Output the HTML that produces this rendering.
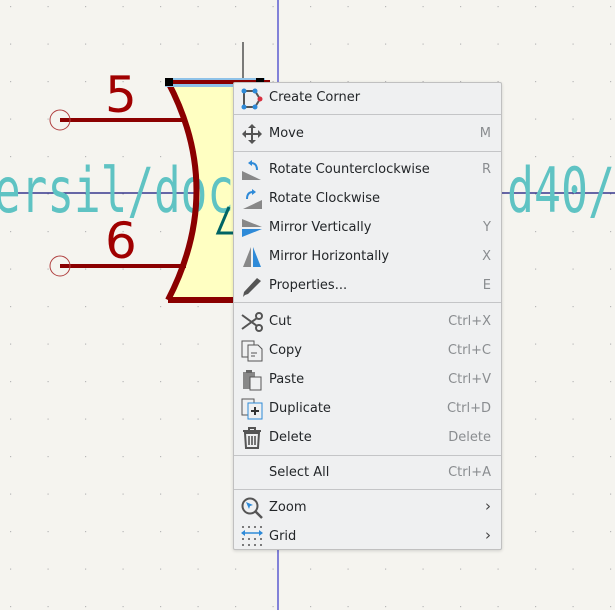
<!DOCTYPE html>
<html><head><style>
body{margin:0;width:615px;height:610px;overflow:hidden;background:#f5f4ef;position:relative;font-family:"DejaVu Sans","Liberation Sans",sans-serif}
.m{position:absolute;left:233px;top:82px;width:267px;height:466px;background:#eff0f1;border:1px solid #c0c0c0;border-radius:2px;box-shadow:0 1px 3px rgba(0,0,0,.15)}
.i{position:absolute;left:35px;font-size:13px;color:#232629;line-height:16px}
.k{position:absolute;right:10px;font-size:13px;color:#8a8d90;line-height:16px}
.s{position:absolute;left:0;right:0;height:1px;background:#c4c5c7}
.ic{position:absolute;left:7px}
</style></head><body>
<svg width="615" height="610" style="position:absolute;left:0;top:0">
<defs><pattern id="g" x="10" y="6" width="37.5" height="37.5" patternUnits="userSpaceOnUse"><rect x="0" y="0" width="1.2" height="1.2" fill="#b8b8b8"/></pattern></defs>
<rect width="615" height="610" fill="url(#g)"/>
<line x1="278" y1="0" x2="278" y2="610" stroke="#1010c0" stroke-width="1"/>
<line x1="0" y1="193" x2="615" y2="193" stroke="#10107a" stroke-width="1.3"/>
<line x1="243" y1="42" x2="243" y2="84" stroke="#000" stroke-width="1"/>
<path d="M168,82 L270,82 L270,300 L168,300 Q225,190 168,82Z" fill="#ffffc2"/>
<text x="-6" y="212" font-family="DejaVu Sans Mono,Liberation Mono,monospace" font-size="62" fill="#5fc3c3" textLength="240" lengthAdjust="spacingAndGlyphs">ersil/doc</text>
<text x="507" y="212" font-family="DejaVu Sans Mono,Liberation Mono,monospace" font-size="62" fill="#5fc3c3" textLength="108" lengthAdjust="spacingAndGlyphs">d40/</text>
<path d="M168,82 Q225,190 168,300" fill="none" stroke="#8b0000" stroke-width="6"/>
<line x1="168" y1="300" x2="270" y2="300" stroke="#8b0000" stroke-width="6"/>
<rect x="165" y="78" width="100" height="9" fill="#8fc2e8"/>
<line x1="168" y1="82" x2="270" y2="82" stroke="#8b0000" stroke-width="4"/>
<rect x="165" y="78" width="8" height="8" fill="#000"/><rect x="256" y="78" width="8" height="8" fill="#000"/>
<line x1="60" y1="120" x2="186" y2="120" stroke="#8b0000" stroke-width="4"/>
<line x1="60" y1="266" x2="186" y2="266" stroke="#8b0000" stroke-width="4"/>
<circle cx="60" cy="120" r="10" fill="none" stroke="#b04040" stroke-width="1"/>
<circle cx="60" cy="266" r="10" fill="none" stroke="#b04040" stroke-width="1"/>
<text x="105" y="112" font-family="DejaVu Sans" font-size="50" fill="#a00000">5</text>
<text x="105" y="258" font-family="DejaVu Sans" font-size="50" fill="#a00000">6</text>
<path d="M229,207 L218,233 L236,233" fill="none" stroke="#006464" stroke-width="3"/>
</svg>
<div class="m">
<svg class="ic" style="top:5px" width="22" height="22"><path d="M3,3 H14 L19,11 L14,19 H3Z" fill="none" stroke="#555" stroke-width="2"/><circle cx="3" cy="3" r="2.5" fill="#2e8ad8"/><circle cx="14" cy="3" r="2.5" fill="#2e8ad8"/><circle cx="3" cy="19" r="2.5" fill="#2e8ad8"/><circle cx="14" cy="19" r="2.5" fill="#2e8ad8"/><circle cx="19" cy="11" r="2.5" fill="#d83040"/></svg>
<div class="i" style="top:7px">Create Corner</div>
<div class="s" style="top:31px"></div>
<svg class="ic" style="top:40px" width="22" height="22"><path d="M11,1 L15,5 H7Z M11,21 L15,17 H7Z M1,11 L5,7 V15Z M21,11 L17,7 V15Z" fill="#555"/><path d="M11,4 V18 M4,11 H18" stroke="#555" stroke-width="2"/></svg>
<div class="i" style="top:43px">Move</div><div class="k" style="top:43px">M</div>
<div class="s" style="top:68px"></div>
<svg class="ic" style="top:76px" width="22" height="22"><path d="M1,21 L20,21 L1,12Z" fill="#888"/><path d="M10,4 Q16,4 16,11" fill="none" stroke="#2e8ad8" stroke-width="2"/><path d="M7,4 L11,1 L11,7Z" fill="#2e8ad8"/></svg>
<div class="i" style="top:79px">Rotate Counterclockwise</div><div class="k" style="top:79px">R</div>
<svg class="ic" style="top:105px" width="22" height="22"><path d="M21,21 L2,21 L21,12Z" fill="#888"/><path d="M6,11 Q6,4 12,4" fill="none" stroke="#2e8ad8" stroke-width="2"/><path d="M15,4 L11,1 L11,7Z" fill="#2e8ad8"/></svg>
<div class="i" style="top:108px">Rotate Clockwise</div>
<svg class="ic" style="top:134px" width="22" height="22"><path d="M1,2 L21,10 H1Z" fill="#888"/><path d="M1,20 L21,12 H1Z" fill="#2e8ad8"/></svg>
<div class="i" style="top:137px">Mirror Vertically</div><div class="k" style="top:137px">Y</div>
<svg class="ic" style="top:163px" width="22" height="22"><path d="M10,1 L2,21 H10Z" fill="#888"/><path d="M12,1 L20,21 H12Z" fill="#2e8ad8"/></svg>
<div class="i" style="top:166px">Mirror Horizontally</div><div class="k" style="top:166px">X</div>
<svg class="ic" style="top:192px" width="22" height="22"><path d="M4,20 L2,22 L3,17 L16,3 L20,6 L7,19Z" fill="#555"/></svg>
<div class="i" style="top:195px">Properties...</div><div class="k" style="top:195px">E</div>
<div class="s" style="top:219px"></div>
<svg class="ic" style="top:228px" width="22" height="22"><circle cx="18" cy="5" r="3" fill="none" stroke="#555" stroke-width="2"/><circle cx="18" cy="17" r="3" fill="none" stroke="#555" stroke-width="2"/><path d="M1,4 L16,15 M1,18 L16,7" stroke="#555" stroke-width="2"/></svg>
<div class="i" style="top:231px">Cut</div><div class="k" style="top:231px">Ctrl+X</div>
<svg class="ic" style="top:257px" width="22" height="22"><rect x="1" y="1" width="12" height="16" fill="#eff0f1" stroke="#555"/><path d="M7,5 H17 L21,9 V21 H7Z" fill="#eff0f1" stroke="#555"/><path d="M10,13 H16 M10,16 H14" stroke="#555"/></svg>
<div class="i" style="top:260px">Copy</div><div class="k" style="top:260px">Ctrl+C</div>
<svg class="ic" style="top:286px" width="22" height="22"><rect x="2" y="3" width="12" height="17" fill="#888"/><rect x="5" y="1" width="6" height="3" fill="#666"/><rect x="9" y="8" width="11" height="13" fill="#eff0f1" stroke="#555"/></svg>
<div class="i" style="top:289px">Paste</div><div class="k" style="top:289px">Ctrl+V</div>
<svg class="ic" style="top:315px" width="22" height="22"><rect x="1" y="1" width="12" height="16" fill="#eff0f1" stroke="#555"/><rect x="7" y="5" width="14" height="16" fill="#eff0f1" stroke="#2e8ad8"/><path d="M14,9 V17 M10,13 H18" stroke="#333" stroke-width="2"/></svg>
<div class="i" style="top:318px">Duplicate</div><div class="k" style="top:318px">Ctrl+D</div>
<svg class="ic" style="top:344px" width="22" height="22"><path d="M2,4 H20 M8,4 V1 H14 V4" stroke="#555" stroke-width="2" fill="none"/><path d="M4,6 H18 L17,21 H5Z" fill="none" stroke="#555" stroke-width="2"/><path d="M8,9 V18 M11,9 V18 M14,9 V18" stroke="#555" stroke-width="1.6"/></svg>
<div class="i" style="top:347px">Delete</div><div class="k" style="top:347px">Delete</div>
<div class="s" style="top:372px"></div>
<div class="i" style="top:382px">Select All</div><div class="k" style="top:382px">Ctrl+A</div>
<div class="s" style="top:406px"></div>
<svg class="ic" style="top:414px" width="22" height="22"><circle cx="9" cy="9" r="7.5" fill="none" stroke="#555" stroke-width="2"/><path d="M14,14 L21,21" stroke="#555" stroke-width="2.5"/><path d="M5,5 L12,8 L9,9 L8,12Z" fill="#2e8ad8"/></svg>
<div class="i" style="top:417px">Zoom</div><div class="k" style="top:415px;color:#444;font-size:15px">&#x203A;</div>
<svg class="ic" style="top:442px" width="22" height="24"><g fill="#555"><circle cx="2" cy="2" r="1"/><circle cx="8" cy="2" r="1"/><circle cx="14" cy="2" r="1"/><circle cx="20" cy="2" r="1"/><circle cx="2" cy="14" r="1"/><circle cx="8" cy="14" r="1"/><circle cx="14" cy="14" r="1"/><circle cx="20" cy="14" r="1"/><circle cx="2" cy="20" r="1"/><circle cx="8" cy="20" r="1"/><circle cx="14" cy="20" r="1"/><circle cx="20" cy="20" r="1"/></g><path d="M1,8 H21" stroke="#2e8ad8" stroke-width="1.5"/><path d="M0,8 L4,5 V11Z M22,8 L18,5 V11Z" fill="#2e8ad8"/></svg>
<div class="i" style="top:446px">Grid</div><div class="k" style="top:444px;color:#444;font-size:15px">&#x203A;</div>
</div>
</body></html>
